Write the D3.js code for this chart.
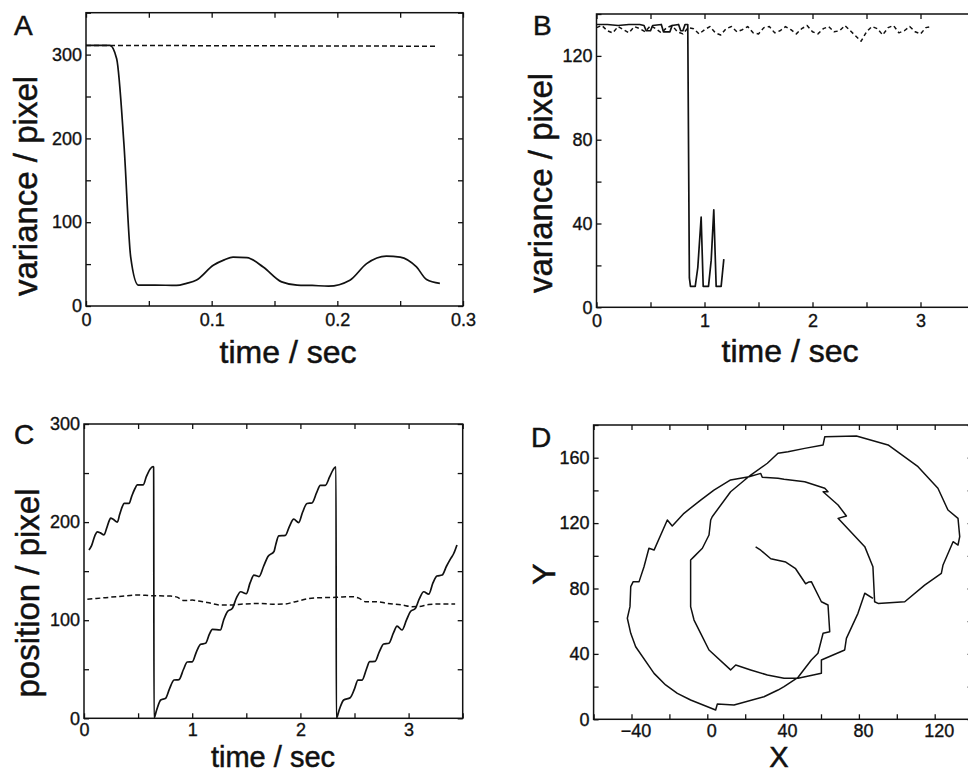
<!DOCTYPE html>
<html><head><meta charset="utf-8">
<script src="https://cdn.jsdelivr.net/npm/d3@7"></script>
<style>
html,body{margin:0;padding:0;background:#fff;}
svg{display:block;}
</style></head><body>
<svg id="c" width="968" height="774"></svg>
<script>
// ---------------- DATA ----------------
// Panel A
const A_solid_t = [0, 0.019, 0.0244, 0.0302, 0.0356, 0.0416, 0.055, 0.072, 0.08, 0.088, 0.1013, 0.11, 0.117, 0.128, 0.141, 0.1557, 0.168, 0.18, 0.193, 0.21, 0.2233, 0.239, 0.25, 0.263, 0.271, 0.2816];
const A_solid_v = [311, 311, 295, 193, 58, 25, 25, 24.5, 27, 31, 48.6, 55, 58.4, 57.7, 46.6, 28.8, 25, 24.5, 23.7, 30.8, 50.6, 59.6, 58.4, 46.6, 31.6, 26.9];
const A_dash_t = [0, 0.279];
const A_dash_v = [311, 310];
const A_xTickVals = [0, 0.1, 0.2, 0.3];
const A_xTickLabels = ["0", "0.1", "0.2", "0.3"];
const A_yTickVals = [0, 100, 200, 300];
const A_yTickLabels = ["0", "100", "200", "300"];

// Panel B
const B_solid_t = [0, 0.1, 0.2, 0.3, 0.4, 0.44, 0.46, 0.5, 0.52, 0.6, 0.62, 0.68, 0.7, 0.76, 0.78, 0.8, 0.82, 0.845, 0.86, 0.87, 0.914, 0.938, 0.969, 0.988, 1.037, 1.062, 1.086, 1.108, 1.154, 1.179];
const B_solid_v = [135, 135, 134.5, 135, 135, 134.5, 132, 132, 134.5, 135, 131.5, 131.5, 134.5, 135, 132, 132, 135, 135, 14, 10, 10, 19, 43, 10, 10, 22.5, 46.5, 10, 10, 23];
const B_dash_t = [0, 0.05, 0.1, 0.15, 0.2, 0.25, 0.3, 0.35, 0.4, 0.45, 0.5, 0.55, 0.6, 0.65, 0.7, 0.75, 0.8, 0.85, 0.9, 0.95, 1.0, 1.05, 1.1, 1.15, 1.2, 1.25, 1.3, 1.35, 1.4, 1.45, 1.5, 1.55, 1.6, 1.65, 1.7, 1.75, 1.8, 1.85, 1.9, 1.95, 2.0, 2.05, 2.1, 2.15, 2.2, 2.25, 2.3, 2.35, 2.4, 2.45, 2.5, 2.55, 2.6, 2.65, 2.7, 2.75, 2.8, 2.85, 2.9, 2.95, 3.0, 3.05, 3.1];
const B_dash_v = [133.5, 134.5, 132, 131, 134, 132.5, 131, 134, 133, 131.5, 134.5, 133, 131, 133.5, 134.5, 131.5, 130.5, 133.5, 133, 130.5, 132.5, 134, 131, 130, 133, 134, 131.5, 132.5, 134, 131, 130.5, 133.5, 134, 131, 132, 134, 132.5, 130.5, 133, 134.5, 131.5, 130.5, 133, 134, 131.5, 132, 134.5, 132, 129.5, 127, 131.5, 134, 133, 130, 133.5, 134.5, 131, 132, 134, 131.5, 130.5, 133.5, 134];
const B_xTickVals = [0, 1, 2, 3];
const B_xTickLabels = ["0", "1", "2", "3"];
const B_yTickVals = [0, 40, 80, 120];
const B_yTickLabels = ["0", "40", "80", "120"];

// Panel C
const C_solid_t = [0.046, 0.07, 0.10, 0.123, 0.15, 0.185, 0.21, 0.235, 0.246, 0.27, 0.308, 0.33, 0.355, 0.37, 0.416, 0.44, 0.47, 0.493, 0.548, 0.575, 0.61, 0.638, 0.644, 0.647, 0.67, 0.709, 0.755, 0.79, 0.832, 0.878, 0.92, 0.955, 1.0, 1.04, 1.078, 1.124, 1.16, 1.186, 1.26, 1.29, 1.325, 1.37, 1.41, 1.448, 1.5, 1.535, 1.571, 1.617, 1.66, 1.70, 1.756, 1.77, 1.8, 1.861, 1.9, 1.938, 1.984, 2.02, 2.061, 2.107, 2.15, 2.184, 2.23, 2.27, 2.30, 2.323, 2.329, 2.332, 2.36, 2.4, 2.46, 2.5, 2.532, 2.57, 2.61, 2.64, 2.69, 2.73, 2.77, 2.818, 2.86, 2.893, 2.939, 2.98, 3.016, 3.062, 3.10, 3.14, 3.186, 3.225, 3.262, 3.31, 3.35, 3.39, 3.417, 3.447];
const C_solid_v = [171.6, 176, 186, 190, 189, 187, 194, 202, 204, 203, 200, 208, 216, 219, 219, 226, 234, 238, 238, 246, 254, 256.5, 256, 0, 8, 18.7, 20.5, 30, 39, 39.5, 50, 57.4, 57.5, 68, 75.4, 76.5, 86, 90.7, 90, 100, 108.7, 112, 123, 129, 127, 138, 146, 144.5, 155, 165, 170, 176, 186, 186.5, 196, 203, 199.5, 210, 219, 219.5, 230, 237.5, 237.5, 246, 253, 256, 256, 0, 9, 18.7, 21, 30, 39, 39, 50, 57.7, 58, 68, 75.7, 76.5, 87, 94, 90, 100, 108.7, 112, 122, 129, 126.5, 138, 145, 146, 155, 163, 168, 176.7];
const C_dash_t = [0.031, 0.2, 0.35, 0.5, 0.616, 0.8, 0.86, 0.924, 1.0, 1.06, 1.14, 1.263, 1.35, 1.479, 1.633, 1.74, 1.85, 1.953, 2.077, 2.2, 2.323, 2.477, 2.54, 2.6, 2.7, 2.8, 2.94, 3.03, 3.1, 3.186, 3.3, 3.43];
const C_dash_v = [121.3, 123, 124.5, 125.7, 125, 124.6, 123.5, 120, 120.5, 119.5, 118, 115.5, 115.5, 116.5, 117, 116.3, 116.5, 118.9, 122, 123, 123.3, 124, 122.5, 118.9, 118.9, 117.2, 115.5, 113.8, 114, 116, 116.5, 116.5];
const C_xTickVals = [0, 1, 2, 3];
const C_xTickLabels = ["0", "1", "2", "3"];
const C_yTickVals = [0, 100, 200, 300];
const C_yTickLabels = ["0", "100", "200", "300"];

// Panel D (trajectory)
const D_x = [25.5, 28.2, 33.5, 41.4, 46.6, 51.9, 53.7, 54.9, 60.2, 63.7, 64.6, 61.1, 58.4, 54.9, 47.9, 40.5, 37.3, 29.9, 14.1, 5.3, 4.4, -8.8, -15.8, -22, -28.1, -37.8, -40.4, -42.2, -40.8, -40.4, -39.1, -36, -33.4, -30.8, -28.1, -21.1, -18.5, -12.3, -3.5, 3.5, 12.3, 22, 28.2, 29, 37.3, 40.5, 51.4, 62, 63.7, 61.1, 69, 73.4, 69, 83.1, 87.4, 88.3, 90.1, 104.2, 114.7, 123.5, 124.4, 129.7, 132.3, 133.2, 132.3, 127, 121.7, 111.2, 95.4, 78.7, 62, 61.1, 51.4, 42.6, 37.3, 31.7, 22.9, 12.3, 2.6, 1.8, 0.9, -2.6, -7, -8.8, -8.8, -7, -3.5, 0.9, 12.3, 15, 22.9, 31.7, 40.5, 47.9, 60.2, 60.2, 72.5, 73.4, 79.5, 83.1, 87.4];
const D_y = [105.4, 103.4, 98.2, 96.2, 92.1, 82.9, 84.0, 84.2, 71.9, 69.9, 53.6, 52.6, 40.4, 36.3, 25.7, 20.0, 17.9, 13.8, 8.7, 9.4, 5.7, 11.8, 15.9, 21, 28.1, 44.4, 52.6, 61.8, 68.9, 81.1, 84.2, 84.2, 93.3, 104.6, 103.5, 121.9, 118.2, 126, 134.1, 140.2, 146.4, 148.4, 150.4, 148, 147.4, 146.8, 145.3, 141.3, 139.2, 139.2, 131.1, 124.3, 122.9, 105.6, 93.3, 71.9, 70.9, 71.9, 82.1, 89.3, 94.4, 108.6, 106.6, 111.7, 122.9, 128, 141.3, 154.5, 167.8, 173.3, 172.8, 167.8, 165.7, 163.7, 162.7, 156.6, 149.4, 139.2, 123.9, 121.9, 112.7, 104.6, 99.5, 97.4, 68.9, 60.7, 52.6, 42.4, 30.2, 33.2, 30.2, 27.1, 25.1, 25.1, 28.1, 36.3, 42.4, 49.5, 64.8, 77.1, 74];
const D_xTickVals = [-40, 0, 40, 80, 120];
const D_xTickLabels = ["\u221240", "0", "40", "80", "120"];
const D_yTickVals = [0, 40, 80, 120, 160];
const D_yTickLabels = ["0", "40", "80", "120", "160"];

// ---------------- DRAWING ----------------
const FONT = '"Liberation Sans", Arial, Helvetica, sans-serif';
const INK = "#111";
const svg = d3.select("#c");
const defs = svg.append("defs");

function heavy(sel, w) {
  sel.attr("fill", INK).attr("stroke", INK).attr("stroke-width", w).attr("paint-order", "stroke");
}

function panel(o) {
  const g = svg.append("g");
  const [x0, x1] = o.x.range();
  const [yb, yt] = o.y.range();
  const cid = "clip" + o.id;
  defs.append("clipPath").attr("id", cid).append("rect")
    .attr("x", x0).attr("y", yt).attr("width", x1 - x0).attr("height", yb - yt);

  const fmt = (vals, labels) => d => {
    const i = vals.findIndex(v => Math.abs(v - d) < 1e-9);
    return i >= 0 ? labels[i] : "";
  };
  const style = sel => {
    sel.select(".domain").remove();
    sel.attr("font-family", FONT).attr("font-size", 18).attr("color", INK);
    sel.selectAll("line").attr("stroke-width", 1.3);
    sel.selectAll("text").call(heavy, 0.35);
  };
  // bottom
  g.append("g").attr("transform", `translate(0,${yb})`)
    .call(d3.axisBottom(o.x).tickValues(o.xAll).tickFormat(fmt(o.xVals, o.xLabels))
      .tickSizeInner(-5).tickSizeOuter(0).tickPadding(o.xPad || 7))
    .call(style)
    .selectAll("text").attr("dx", o.xLabelDx || 0);
  // top
  g.append("g").attr("transform", `translate(0,${yt})`)
    .call(d3.axisTop(o.x).tickValues(o.xAll).tickFormat("").tickSizeInner(-5).tickSizeOuter(0))
    .call(style);
  // left
  g.append("g").attr("transform", `translate(${x0},0)`)
    .call(d3.axisLeft(o.y).tickValues(o.yAll).tickFormat(fmt(o.yVals, o.yLabels))
      .tickSizeInner(-5).tickSizeOuter(0).tickPadding(4))
    .call(style);
  // right
  g.append("g").attr("transform", `translate(${x1},0)`)
    .call(d3.axisRight(o.y).tickValues(o.yAll).tickFormat("").tickSizeInner(-5).tickSizeOuter(0))
    .call(style);

  // frame
  g.append("rect").attr("x", x0).attr("y", yt).attr("width", x1 - x0).attr("height", yb - yt)
    .attr("fill", "none").attr("stroke", INK).attr("stroke-width", 1.5);

  // series
  const plot = g.append("g").attr("clip-path", `url(#${cid})`);
  o.series.forEach(s => {
    const line = d3.line()
      .x(i => o.x(s.xs[i])).y(i => o.y(s.ys[i]))
      .curve(s.curve || d3.curveLinear);
    plot.append("path").attr("d", line(d3.range(s.xs.length)))
      .attr("fill", "none").attr("stroke", INK).attr("stroke-width", s.w || 1.7)
      .attr("stroke-linejoin", "round")
      .attr("stroke-dasharray", s.dash || null);
  });

  // letter
  g.append("text").attr("x", o.letter[1]).attr("y", o.letter[2]).text(o.letter[0])
    .attr("font-family", FONT).attr("font-size", 28).call(heavy, 0.5);
  // x title
  g.append("text").attr("x", o.xTitle[1]).attr("y", o.xTitle[2]).text(o.xTitle[0])
    .attr("text-anchor", "middle").attr("font-family", FONT).attr("font-size", o.xTitle[3]).call(heavy, 0.5);
  // y title
  g.append("text").attr("transform", `translate(${o.yTitle[1]},${o.yTitle[2]}) rotate(-90)`).text(o.yTitle[0])
    .attr("text-anchor", "middle").attr("font-family", FONT).attr("font-size", o.yTitle[3]).call(heavy, 0.5);
}

const step = (a, b, s) => d3.range(Math.round((b - a) / s) + 1).map(i => +(a + i * s).toFixed(6));

// A
panel({
  id: "A",
  x: d3.scaleLinear().domain([0, 0.3]).range([86, 463]),
  y: d3.scaleLinear().domain([0, 350]).range([306, 12.7]),
  xAll: step(0, 0.3, 0.05), xVals: A_xTickVals, xLabels: A_xTickLabels,
  yAll: step(0, 350, 50), yVals: A_yTickVals, yLabels: A_yTickLabels,
  series: [
    { xs: A_solid_t, ys: A_solid_v, curve: d3.curveMonotoneX },
    { xs: A_dash_t, ys: A_dash_v, dash: "5,3", w: 1.5 }
  ],
  letter: ["A", 14, 35],
  xTitle: ["time / sec", 288, 363, 32],
  yTitle: ["variance / pixel", 37, 186, 33]
});

// B
panel({
  id: "B",
  x: d3.scaleLinear().domain([0, 3.5]).range([596.5, 974.5]),
  y: d3.scaleLinear().domain([0, 140]).range([307.3, 14]),
  xAll: step(0, 3.5, 0.5), xVals: B_xTickVals, xLabels: B_xTickLabels,
  yAll: step(0, 140, 20), yVals: B_yTickVals, yLabels: B_yTickLabels,
  series: [
    { xs: B_solid_t, ys: B_solid_v },
    { xs: B_dash_t, ys: B_dash_v, dash: "4,3", w: 1.5 }
  ],
  letter: ["B", 533, 35],
  xTitle: ["time / sec", 790, 362, 32],
  yTitle: ["variance / pixel", 552, 183, 33]
});

// C
panel({
  id: "C",
  x: d3.scaleLinear().domain([0, 3.5]).range([84, 462.7]),
  y: d3.scaleLinear().domain([0, 300]).range([718.3, 424]),
  xAll: step(0, 3.5, 0.5), xVals: C_xTickVals, xLabels: C_xTickLabels, xPad: 5,
  yAll: step(0, 300, 50), yVals: C_yTickVals, yLabels: C_yTickLabels,
  series: [
    { xs: C_solid_t, ys: C_solid_v, curve: d3.curveMonotoneX },
    { xs: C_dash_t, ys: C_dash_v, dash: "5,3", w: 1.5, curve: d3.curveMonotoneX }
  ],
  letter: ["C", 14, 444],
  xTitle: ["time / sec", 273, 767, 29],
  yTitle: ["position / pixel", 39, 593, 33]
});

// D
panel({
  id: "D",
  x: d3.scaleLinear().domain([-60, 140]).range([593.6, 972.6]),
  y: d3.scaleLinear().domain([0, 180]).range([719.3, 425]),
  xAll: step(-60, 140, 20), xVals: D_xTickVals, xLabels: D_xTickLabels, xLabelDx: 4, xPad: 5,
  yAll: step(0, 180, 20), yVals: D_yTickVals, yLabels: D_yTickLabels,
  series: [
    { xs: D_x, ys: D_y, w: 1.5 }
  ],
  letter: ["D", 531, 447],
  xTitle: ["X", 779, 767, 29],
  yTitle: ["Y", 555, 574, 32]
});
</script>
</body></html>
